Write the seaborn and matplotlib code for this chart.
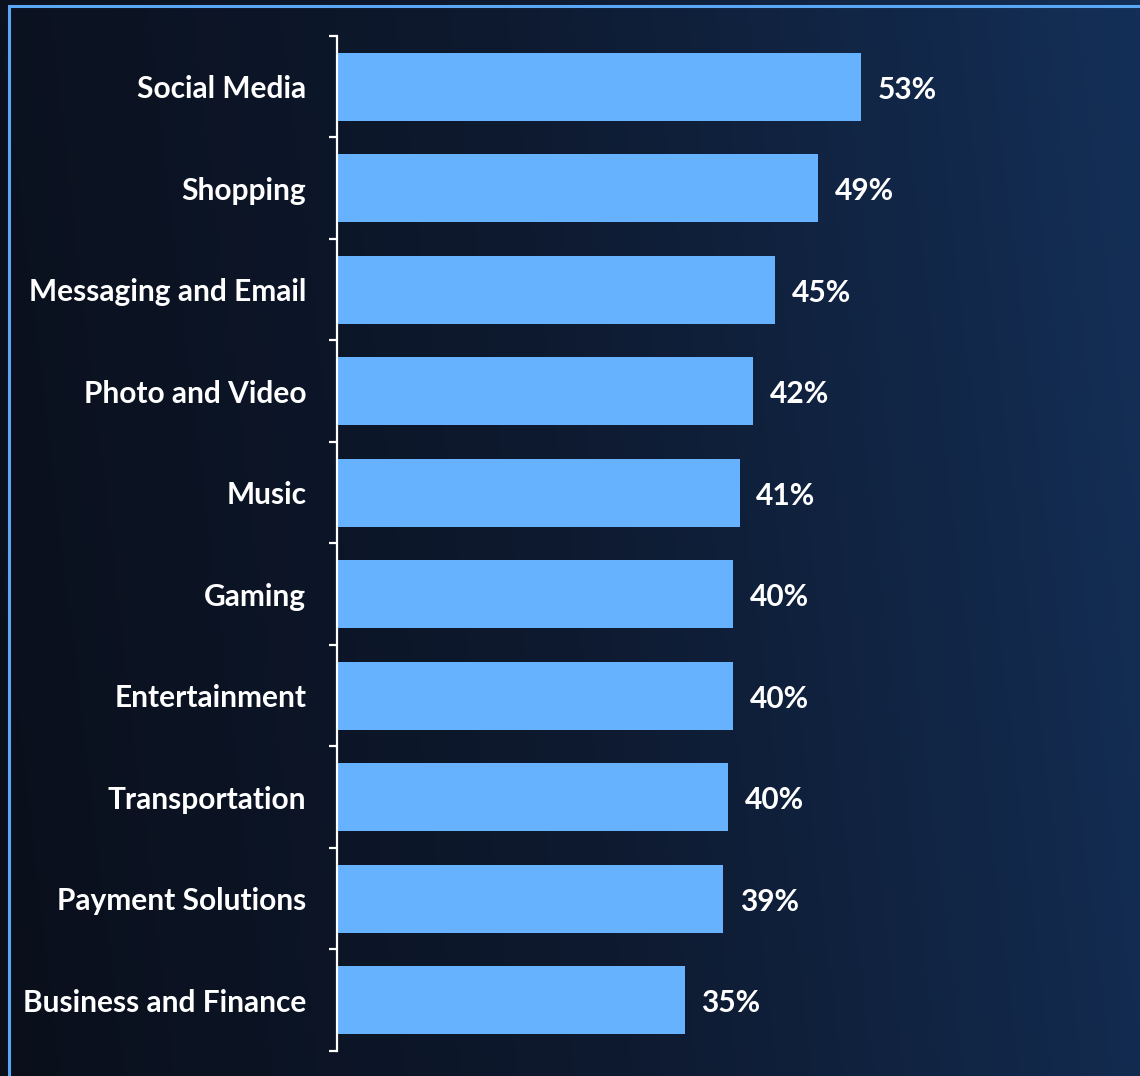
import numpy as np
import pandas as pd
import matplotlib
matplotlib.use("Agg")
import matplotlib.pyplot as plt
from matplotlib.colors import LinearSegmentedColormap
from matplotlib.patches import Rectangle
import seaborn as sns

# App categories and share of respondents (%)
categories = [
    "Social Media", "Shopping", "Messaging and Email", "Photo and Video",
    "Music", "Gaming", "Entertainment", "Transportation",
    "Payment Solutions", "Business and Finance",
]
shares = [53.4, 49.0, 44.6, 42.4, 41.0, 40.3, 40.3, 39.8, 39.3, 35.4]

df = pd.DataFrame({"category": categories, "share": shares})

sns.set_theme(style="dark")
plt.rcParams["font.family"] = ["Lato", "DejaVu Sans"]

W, H, DPI = 1140, 1076, 100
fig = plt.figure(figsize=(W / DPI, H / DPI), dpi=DPI)

# Background: dark navy gradient with a thin light-blue frame
bg = fig.add_axes([0, 0, 1, 1], zorder=0)
bg.set_axis_off()
xx, yy = np.meshgrid(np.linspace(0, 1, 400), np.linspace(0, 1, 400))
grad = np.clip(xx * 0.9 + (1 - yy) * 0.1, 0, 1)
cmap = LinearSegmentedColormap.from_list("bg", ["#0a0f1b", "#0e1a30", "#142f57"])
bg.imshow(grad, cmap=cmap, extent=[0, W, 0, H], origin="upper", aspect="auto")
bg.add_patch(Rectangle((8.5, -20), W + 40, H - 5.5 + 20, fill=False,
                       edgecolor="#5aa8f5", linewidth=2.2))
bg.set_xlim(0, W)
bg.set_ylim(0, H)

# Bar chart axes
left, top, bottom = 337, 36, 1051
ax = fig.add_axes([left / W, (H - bottom) / H, (W - left) / W, (bottom - top) / H], zorder=1)
ax.patch.set_alpha(0)

sns.barplot(data=df, x="share", y="category", orient="h", color="#66b2ff",
            saturation=1, width=0.67, linewidth=0, edgecolor="none", ax=ax)

ax.set_xlim(0, (W - left) / 9.82)
ax.set_ylim(len(categories) - 0.5, -0.5)
ax.set_xlabel("")
ax.set_ylabel("")
ax.set_xticks([])

for s in ["top", "right", "bottom"]:
    ax.spines[s].set_visible(False)
ax.spines["left"].set_color("white")
ax.spines["left"].set_linewidth(1.6)

ax.tick_params(axis="y", which="major", length=0, pad=22, labelsize=21.5,
               labelcolor="white")
for lbl in ax.get_yticklabels():
    lbl.set_fontweight("bold")
ax.set_yticks(np.arange(-0.5, len(categories) + 0.5, 1), minor=True)
ax.tick_params(axis="y", which="minor", length=6, width=1.6, color="white", left=True)

labels = ax.bar_label(ax.containers[0], labels=[f"{v:.0f}%" for v in shares],
                      padding=12, color="white", fontsize=21.5, fontweight="bold")
for t in labels:
    x_off, y_off = t.xyann
    t.xyann = (x_off, y_off - 2)
ax.grid(False)

fig.savefig("out.png", dpi=DPI)
